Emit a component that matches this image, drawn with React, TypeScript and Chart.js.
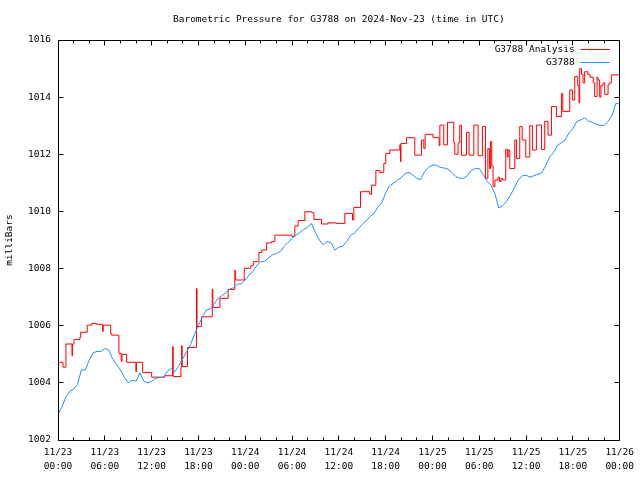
import { useEffect, useRef } from 'react';
import { Chart, registerables } from 'chart.js';

Chart.register(...registerables);

const TITLE = 'Barometric Pressure for G3788 on 2024-Nov-23 (time in UTC)';
const Y_TITLE = 'milliBars';
const SERIES_NAMES = ['G3788 Analysis', 'G3788'];
const SERIES_COLORS = ['#ff0000', '#1e90ff'];
const DAY_LABELS = ['11/23', '11/23', '11/23', '11/23', '11/24', '11/24', '11/24', '11/24', '11/25', '11/25', '11/25', '11/25', '11/26'];
const TIME_LABELS = ['00:00', '06:00', '12:00', '18:00', '00:00', '06:00', '12:00', '18:00', '00:00', '06:00', '12:00', '18:00', '00:00'];
const Y_MIN = 1002;
const Y_MAX = 1016;
const Y_STEP = 2;
const X_HOURS = 72;
const X_MAJOR = 6;
const X_MINOR = 2;
const BLUE_STEP_HOURS = 0.5;

// G3788 observed pressure, every 30 minutes from 11/23 00:00 UTC
const blueValues = [
  1002.9, 1003.15, 1003.5, 1003.7, 1003.78, 1003.95, 1004.45, 1004.45, 1004.8, 1005.05, 1005.1, 1005.1,
  1005.2, 1005.15, 1004.85, 1004.65, 1004.45, 1004.2, 1004.0, 1004.1, 1004.05, 1004.35, 1004.05, 1004.0,
  1004.05, 1004.15, 1004.19, 1004.19, 1004.4, 1004.5, 1004.4, 1004.6, 1004.85, 1005.1, 1005.35, 1005.7,
  1006.0, 1006.3, 1006.55, 1006.58, 1006.75, 1006.95, 1007.05, 1007.15, 1007.28, 1007.33, 1007.45, 1007.47,
  1007.6, 1007.78, 1007.9, 1008.12, 1008.24, 1008.26, 1008.38, 1008.48, 1008.53, 1008.6, 1008.78, 1008.92,
  1009.05, 1009.17, 1009.26, 1009.37, 1009.45, 1009.58, 1009.25, 1009.0, 1008.83, 1008.95, 1008.9, 1008.65,
  1008.75, 1008.78, 1008.94, 1009.17, 1009.24, 1009.4, 1009.55, 1009.67, 1009.82, 1009.93, 1010.15, 1010.3,
  1010.65, 1010.9, 1010.98, 1011.1, 1011.18, 1011.33, 1011.36, 1011.27, 1011.15, 1011.12, 1011.4, 1011.55,
  1011.62, 1011.62, 1011.54, 1011.52, 1011.48, 1011.36, 1011.22, 1011.16, 1011.16, 1011.26, 1011.44, 1011.5,
  1011.5, 1011.3, 1011.05, 1010.92, 1010.63, 1010.12, 1010.2, 1010.35, 1010.57, 1010.83, 1011.1, 1011.25,
  1011.27, 1011.2, 1011.25, 1011.3, 1011.35, 1011.6, 1011.9, 1012.05, 1012.3, 1012.4, 1012.5, 1012.75,
  1012.9, 1013.15, 1013.2, 1013.28, 1013.16, 1013.12, 1013.05, 1013.02, 1013.0, 1013.15, 1013.35, 1013.78,
  1013.76,
];

// G3788 Analysis: hours since 11/23 00:00 UTC at which the value changes, and the value held from then
const redHours = [
  0, 0.64, 1.02, 1.79, 1.87, 2.05, 2.8, 2.91, 3.75, 4.32, 4.96, 5.73, 5.8, 6.75, 6.88, 7.81, 8.1, 8.2, 8.8, 9.99,
  10.05, 10.85, 12.0, 13.7, 14.7, 14.77, 15.76, 15.85, 15.92, 16.6, 17.75, 17.82, 18.4, 19.77, 19.85, 20.75, 21.82, 22.67, 22.73, 23.87,
  24.72, 25.02, 25.75, 26.1, 26.74, 27.38, 27.8, 29.98, 30.36, 30.78, 31.64, 32.54, 32.8, 33.78, 34.59, 35.7, 36.77, 37.75, 37.92, 38.78,
  39.97, 40.19, 40.74, 41.25, 41.76, 42.02, 42.53, 43.81, 43.9, 43.96, 44.67, 45.73, 46.59, 46.89, 47.06, 48.08, 48.85, 48.95, 49.45, 49.92,
  50.73, 50.86, 51.28, 51.5, 51.71, 52.36, 52.69, 53.3, 53.85, 54.4, 54.79, 55.1, 55.3, 55.45, 55.6, 55.77, 56.0, 56.4, 56.6, 56.8,
  57.0, 57.39, 57.6, 57.7, 57.91, 58.55, 58.76, 59.19, 59.5, 59.96, 60.47, 60.81, 61.32, 61.97, 62.39, 62.81, 63.25, 63.89, 64.53, 64.7,
  65.6, 65.94, 66.24, 66.62, 66.78, 66.87, 67.1, 67.3, 67.51, 67.9, 68.2, 68.6, 68.79, 69.1, 69.22, 69.43, 69.6, 69.86, 70.08, 70.51,
  70.71, 70.93, 72,
];
const redValues = [
  1004.72, 1004.55, 1005.36, 1004.95, 1005.36, 1005.52, 1005.6, 1005.77, 1006.02, 1006.08, 1006.05, 1005.8, 1006.02, 1005.73, 1005.67, 1005.03, 1004.75, 1005.0, 1004.72, 1004.39,
  1004.72, 1004.36, 1004.2, 1004.25, 1005.27, 1004.22, 1004.55, 1005.3, 1004.57, 1005.24, 1007.3, 1005.97, 1006.31, 1007.27, 1006.64, 1006.96, 1007.27, 1007.95, 1007.6, 1008.01,
  1008.1, 1008.24, 1008.56, 1008.65, 1008.9, 1008.94, 1009.17, 1009.12, 1009.49, 1009.68, 1009.99, 1009.95, 1009.72, 1009.56, 1009.6, 1009.58, 1009.93, 1009.7, 1010.14, 1010.69,
  1010.6, 1010.92, 1011.43, 1011.36, 1011.68, 1012.03, 1012.15, 1012.33, 1011.74, 1012.38, 1012.58, 1011.97, 1012.5, 1012.2, 1012.7, 1012.58, 1012.3, 1013.02, 1012.33, 1013.12,
  1012.4, 1012.0, 1012.4, 1013.02, 1011.97, 1012.77, 1011.97, 1013.02, 1011.95, 1012.97, 1011.16, 1012.2, 1011.5, 1012.45, 1011.6, 1010.87, 1011.1, 1011.2, 1011.05, 1011.15,
  1011.1, 1012.17, 1011.9, 1012.15, 1011.5, 1012.5, 1011.85, 1012.97, 1012.5, 1011.9, 1013.0, 1012.15, 1013.02, 1012.17, 1013.15, 1012.67, 1013.67, 1013.32, 1014.13, 1013.5,
  1014.25, 1013.9, 1014.72, 1014.4, 1013.8, 1015.0, 1014.8, 1014.5, 1014.89, 1014.8, 1014.7, 1014.5, 1014.02, 1014.7, 1014.6, 1014.0, 1014.4, 1014.5, 1014.1, 1014.45,
  1014.5, 1014.78, 1014.78,
];

const FONT_FAMILY = '"DejaVu Sans Mono", "Liberation Mono", monospace';
const FONT_SIZE = 9.5;

const framePlugin = {
  id: 'gnuFrame',
  afterDatasetsDraw(chart: any) {
    const { ctx, chartArea: a, scales } = chart;
    const xs = scales.x;
    const ys = scales.y;
    const L = Math.floor(a.left) + 0.5;
    const R = Math.floor(a.right) + 0.5;
    const T = Math.floor(a.top) + 0.5;
    const B = Math.floor(a.bottom) + 0.5;
    ctx.save();
    ctx.strokeStyle = '#000';
    ctx.lineWidth = 1;
    ctx.beginPath();
    ctx.rect(L, T, R - L, B - T);
    ctx.stroke();
    ctx.beginPath();
    for (let h = 0; h <= X_HOURS; h += X_MINOR) {
      const px = Math.floor(xs.getPixelForValue(h)) + 0.5;
      const len = h % X_MAJOR === 0 ? 5 : 3;
      ctx.moveTo(px, B);
      ctx.lineTo(px, B - len);
      ctx.moveTo(px, T);
      ctx.lineTo(px, T + len);
    }
    for (let v = Y_MIN; v <= Y_MAX; v += Y_STEP) {
      const py = Math.floor(ys.getPixelForValue(v)) + 0.5;
      ctx.moveTo(L, py);
      ctx.lineTo(L + 5, py);
      ctx.moveTo(R, py);
      ctx.lineTo(R - 5, py);
    }
    ctx.stroke();

    ctx.fillStyle = '#000';
    ctx.font = `${FONT_SIZE}px ${FONT_FAMILY}`;
    ctx.textAlign = 'center';
    ctx.textBaseline = 'middle';
    ctx.fillText(TITLE, (a.left + a.right) / 2, 20);

    // legend (top right, inside the frame)
    ctx.textAlign = 'right';
    SERIES_NAMES.forEach((name, i) => {
      const cy = a.top + 9.5 + i * 13;
      ctx.fillStyle = '#000';
      ctx.fillText(name, a.right - 45, cy);
      ctx.strokeStyle = SERIES_COLORS[i];
      ctx.beginPath();
      ctx.moveTo(a.right - 39, Math.floor(cy) + 0.5);
      ctx.lineTo(a.right - 10, Math.floor(cy) + 0.5);
      ctx.stroke();
    });
    ctx.restore();
  },
};

export default function App() {
  const canvasRef = useRef<HTMLCanvasElement | null>(null);

  useEffect(() => {
    const canvas = canvasRef.current;
    if (!canvas) return;
    const redData = redHours.map((h, i) => ({ x: h, y: redValues[i] }));
    const blueData = blueValues.map((v, i) => ({ x: i * BLUE_STEP_HOURS, y: v }));
    const font = { family: FONT_FAMILY, size: FONT_SIZE };

    const chart = new Chart(canvas, {
      type: 'line',
      data: {
        datasets: [
          {
            label: SERIES_NAMES[0],
            data: redData,
            borderColor: SERIES_COLORS[0],
            backgroundColor: SERIES_COLORS[0],
            borderWidth: 1,
            pointRadius: 0,
            stepped: true,
            fill: false,
            order: 1,
          },
          {
            label: SERIES_NAMES[1],
            data: blueData,
            borderColor: SERIES_COLORS[1],
            backgroundColor: SERIES_COLORS[1],
            borderWidth: 1,
            pointRadius: 0,
            tension: 0,
            fill: false,
            order: 0,
          },
        ],
      },
      options: {
        responsive: false,
        animation: false,
        devicePixelRatio: 1,
        parsing: false,
        layout: { padding: { top: 40, right: 20, bottom: 0, left: 0 } },
        plugins: {
          legend: { display: false },
          tooltip: { enabled: false },
          title: { display: false },
        },
        scales: {
          x: {
            type: 'linear',
            min: 0,
            max: X_HOURS,
            afterFit: (s: any) => {
              s.height = 40;
            },
            grid: { display: false, drawTicks: false },
            border: { display: false },
            ticks: {
              stepSize: X_MAJOR,
              autoSkip: false,
              maxRotation: 0,
              minRotation: 0,
              padding: 6,
              color: '#000',
              font: { ...font, lineHeight: '14px' },
              callback: (v: any) => {
                const i = Math.round(Number(v) / X_MAJOR);
                return [DAY_LABELS[i], TIME_LABELS[i]];
              },
            },
          },
          y: {
            min: Y_MIN,
            max: Y_MAX,
            afterFit: (s: any) => {
              s.width = 58;
            },
            grid: { display: false, drawTicks: false },
            border: { display: false },
            ticks: {
              stepSize: Y_STEP,
              padding: 7,
              color: '#000',
              font,
              callback: (v: any) => String(Math.round(Number(v))),
            },
            title: {
              display: true,
              text: Y_TITLE,
              color: '#000',
              font,
              padding: { top: 4, bottom: 4 },
            },
          },
        },
      },
      plugins: [framePlugin],
    } as any);

    return () => chart.destroy();
  }, []);

  return (
    <div style={{ position: 'absolute', left: 0, top: 0, width: 640, height: 480, background: '#fff' }}>
      <canvas ref={canvasRef} width={640} height={480} style={{ display: 'block' }} />
    </div>
  );
}
